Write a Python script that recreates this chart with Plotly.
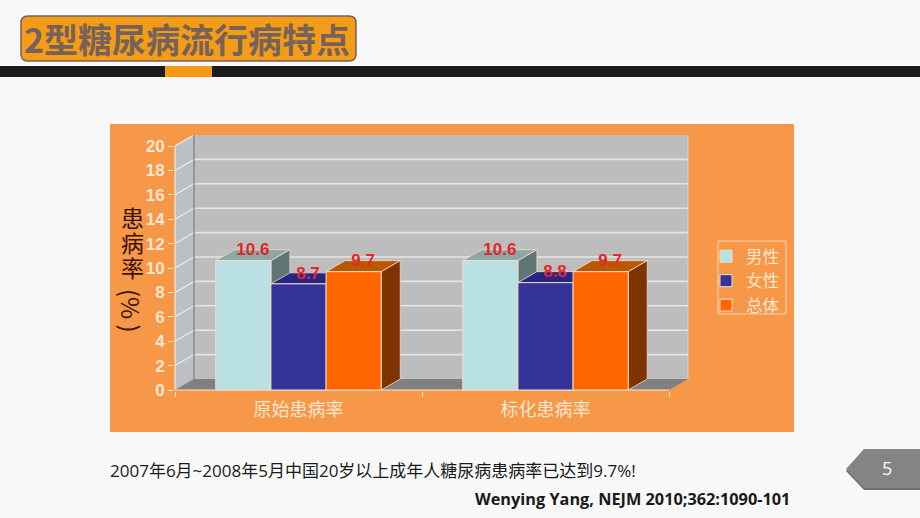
import plotly.graph_objects as go

categories = ["原始患病率", "标化患病率"]
series_names = ["男性", "女性", "总体"]
male_values = [10.6, 10.6]
female_values = [8.7, 8.8]
total_values = [9.7, 9.7]
y_ticks = list(range(0, 21, 2))
title_text = "2型糖尿病流行病特点"
note_text = "2007年6月~2008年5月中国20岁以上成年人糖尿病患病率已达到9.7%!"
cite_text = "Wenying Yang, NEJM 2010;362:1090-101"
page_text = "5"
y_title_chars = ["患", "病", "率"]
y_title_unit = "(% )"

W, H = 920, 518
CREAM = "#fbe6d0"
CJK = "Noto Sans CJK SC, Open Sans, sans-serif"
UI = "Open Sans, Noto Sans CJK SC, sans-serif"
ARIAL = "Liberation Sans, Arial, sans-serif"

# pixel layout of the front plane of the 3D chart
XU, YU = 247.0, 12.2          # pixels per data unit
DEPTH_X, DEPTH_Y = 19 / XU, 11 / YU
x_range = [-0.5 - 1 / XU, -0.5 + 514 / XU]
y_range = [-1 / YU, 255 / YU]
BARGAP = 0.33
BW = (1 - BARGAP) / 3


def px(x):
    return x / W


def py(y):
    return 1 - y / H


def poly_paper(pts):
    return "M" + "L".join(f"{px(a):.5f},{py(b):.5f}" for a, b in pts) + "Z"


def poly_data(pts):
    return "M" + "L".join(f"{a:.5f},{b:.5f}" for a, b in pts) + "Z"


shapes = []


def paper_rect(x0, y0, x1, y1, fill):
    shapes.append(dict(type="rect", xref="paper", yref="paper", x0=px(x0), x1=px(x1),
                       y0=py(y1), y1=py(y0), fillcolor=fill, line_width=0, layer="below"))


# slide furniture
paper_rect(0, 66, W, 77, "#1c1c1c")
paper_rect(165, 66, 212, 77, "#f49a14")
paper_rect(110, 124, 794, 432, "#f79748")
r = 7
x0, y0, x1, y1 = 21, 16, 356, 61
shapes.append(dict(type="path", xref="paper", yref="paper", layer="below", fillcolor="#f39c18",
                   line=dict(color="#7a5f58", width=1.5),
                   path=(f"M{px(x0+r)},{py(y0)}L{px(x1-r)},{py(y0)}Q{px(x1)},{py(y0)} {px(x1)},{py(y0+r)}"
                         f"L{px(x1)},{py(y1-r)}Q{px(x1)},{py(y1)} {px(x1-r)},{py(y1)}"
                         f"L{px(x0+r)},{py(y1)}Q{px(x0)},{py(y1)} {px(x0)},{py(y1-r)}"
                         f"L{px(x0)},{py(y0+r)}Q{px(x0)},{py(y0)} {px(x0+r)},{py(y0)}Z")))
shapes.append(dict(type="path", xref="paper", yref="paper", layer="below", fillcolor="#6f6f6f", line_width=0,
                   path=poly_paper([(846, 471), (864, 452), (920, 452), (920, 490), (864, 490)])))
shapes.append(dict(type="path", xref="paper", yref="paper", layer="below", fillcolor="#848484", line_width=0,
                   path=poly_paper([(846, 469), (864, 449), (920, 449), (920, 488), (864, 488)])))


def data_poly(pts, fill, line=None, lw=0):
    shapes.append(dict(type="path", xref="x", yref="y", layer="below", fillcolor=fill,
                       line=dict(color=line or fill, width=lw), path=poly_data(pts)))


def data_line(xa, ya, xb, yb, color, w=1.5):
    shapes.append(dict(type="line", xref="x", yref="y", layer="below", x0=xa, y0=ya, x1=xb, y1=yb,
                       line=dict(color=color, width=w)))


# walls
x_left, x_right = -0.5, 1.5
top = y_ticks[-1]
data_poly([(x_left + DEPTH_X, DEPTH_Y), (x_right + DEPTH_X, DEPTH_Y), (x_right + DEPTH_X, top + DEPTH_Y),
           (x_left + DEPTH_X, top + DEPTH_Y)], "#bdbdbd")
data_poly([(x_left, 0), (x_left + DEPTH_X, DEPTH_Y), (x_left + DEPTH_X, top + DEPTH_Y), (x_left, top)], "#bcc0c4")
data_poly([(x_left, 0), (x_left + DEPTH_X, DEPTH_Y), (x_right + DEPTH_X, DEPTH_Y), (x_right, 0)], "#808080")
for t in y_ticks[1:-1]:
    data_line(x_left, t, x_left + DEPTH_X, t + DEPTH_Y, "#eeeeee", 1.2)
    data_line(x_left + DEPTH_X, t + DEPTH_Y, x_right + DEPTH_X, t + DEPTH_Y, "#e6e6e6", 1.6)
data_line(x_left, top, x_left + DEPTH_X, top + DEPTH_Y, "#eeeeee", 1.2)
data_line(x_left + DEPTH_X, DEPTH_Y, x_left + DEPTH_X, top + DEPTH_Y, "#8a8a8a", 1.5)
data_line(x_right + DEPTH_X, DEPTH_Y, x_right + DEPTH_X, top + DEPTH_Y, "#d8d8d8", 1)

series = [
    (series_names[0], male_values, "#b9e0e3", "#8ba7a8", "#5f7677"),
    (series_names[1], female_values, "#333399", "#252585", "#20206e"),
    (series_names[2], total_values, "#ff6600", "#b85900", "#7f3300"),
]
EDGE = "#f6dcc8"
traces = []
label_x, label_y, label_text = [], [], []
for s, (name, values, front, top_c, side_c) in enumerate(series):
    for c, v in enumerate(values):
        left = c - (1 - BARGAP) / 2 + s * BW
        right = left + BW
        data_poly([(left, v), (left + DEPTH_X, v + DEPTH_Y), (right + DEPTH_X, v + DEPTH_Y), (right, v)],
                  top_c, EDGE, 0.8)
        data_poly([(right, 0), (right + DEPTH_X, DEPTH_Y), (right + DEPTH_X, v + DEPTH_Y), (right, v)],
                  side_c, EDGE, 0.8)
        label_x.append((left + right) / 2 + DEPTH_X / 2)
        label_y.append(v + DEPTH_Y - 0.12)
        label_text.append(f"{v:.1f}")
    traces.append(go.Bar(name=name, x=[0, 1], y=values, marker=dict(color=front, line=dict(color=EDGE, width=1)),
                         hoverinfo="skip"))

# axis lines of the front plane
data_line(x_left, 0, x_left, top, CREAM, 1.2)
data_line(x_left, 0, x_right, 0, CREAM, 1.2)

traces.append(go.Scatter(x=label_x, y=label_y, text=label_text, mode="text", showlegend=False, hoverinfo="skip",
                         textposition="middle center",
                         textfont=dict(family=ARIAL, size=17, color="#e4262c", weight="bold")))

annotations = [
    dict(text=title_text, x=px(187), y=py(39), font=dict(family=CJK, size=34, color="#76625a", weight="bold")),
    dict(text=note_text, x=px(108), y=py(470), xanchor="left", font=dict(family=UI, size=17, color="#1a1a1a")),
    dict(text=cite_text, x=px(792), y=py(499), xanchor="right", font=dict(family=UI, size=16.3, color="#1a1a1a", weight="bold")),
    dict(text=page_text, x=px(887), y=py(468), font=dict(family=UI, size=18, color="#ffffff")),
    dict(text=y_title_unit, x=px(132), y=py(311), textangle=90, font=dict(family=CJK, size=24, color="#3a1208")),
]
for i, ch in enumerate(y_title_chars):
    annotations.append(dict(text=ch, x=px(132), y=py(217 + 25 * i), font=dict(family=CJK, size=23, color="#3a1208")))
for a in annotations:
    a.update(xref="paper", yref="paper", showarrow=False)
    a.setdefault("xanchor", "center")
    a["yanchor"] = "middle"

shapes.append(dict(type="rect", xref="paper", yref="paper", x0=px(718), x1=px(786), y0=py(314), y1=py(241),
                   line=dict(color=CREAM, width=0.8), fillcolor="rgba(0,0,0,0)", layer="below"))

fig = go.Figure(traces)
fig.update_layout(
    width=W, height=H, margin=dict(l=0, r=0, t=0, b=0, autoexpand=False),
    paper_bgcolor="#f8f8f8", plot_bgcolor="rgba(0,0,0,0)",
    barmode="group", bargap=BARGAP, bargroupgap=0,
    shapes=shapes, annotations=annotations,
    legend=dict(x=px(706), y=py(239), xanchor="left", yanchor="top", bgcolor="rgba(0,0,0,0)",
                font=dict(family=CJK, size=16.5, color=CREAM), traceorder="normal"),
    xaxis=dict(domain=[px(174), px(689)], range=x_range, tickmode="array", tickvals=[0, 1], ticktext=categories,
               automargin=False,
               ticks="outside", ticklen=2, tickcolor="rgba(0,0,0,0)", showgrid=False, zeroline=False, showline=False,
               tickfont=dict(family=CJK, size=18, color=CREAM),
               minor=dict(tickmode="array", tickvals=[-0.5, 0.5, 1.5], ticks="outside", ticklen=5, tickcolor=CREAM,
                          tickwidth=1)),
    yaxis=dict(domain=[py(391), py(135)], range=y_range, tickmode="array", tickvals=y_ticks, ticks="outside",
               automargin=False,
               ticklen=5, tickcolor=CREAM, tickwidth=1, showgrid=False, zeroline=False, showline=False,
               tickfont=dict(family=ARIAL, size=17, color=CREAM, weight="bold")),
)
fig.write_html("out.html", post_script="document.body.style.margin='0';document.body.style.overflow='hidden';",
               config=dict(displayModeBar=False))
